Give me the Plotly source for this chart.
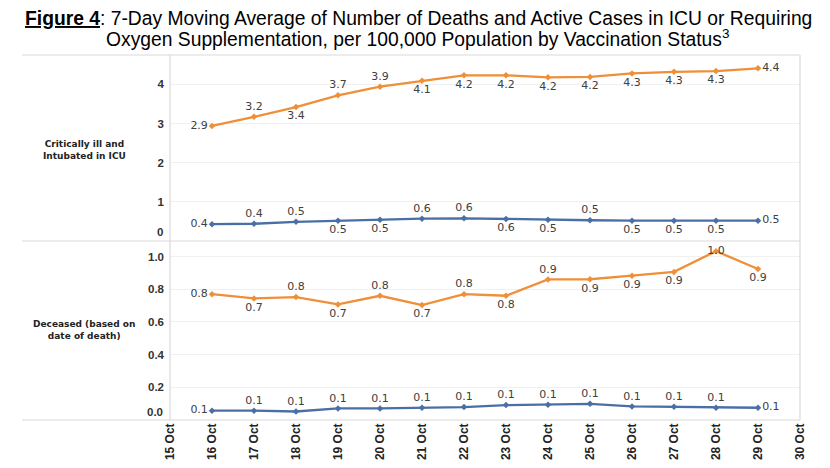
import plotly.graph_objects as go

dates = ["2021-10-%02d" % d for d in range(16, 30)]

icu_unvax = [2.94, 3.17, 3.42, 3.72, 3.94, 4.09, 4.23, 4.23, 4.18, 4.19, 4.28, 4.32, 4.34, 4.41]
icu_vax = [0.43, 0.44, 0.49, 0.52, 0.54, 0.57, 0.58, 0.56, 0.54, 0.53, 0.52, 0.52, 0.52, 0.52]
dec_unvax = [0.77, 0.744, 0.752, 0.707, 0.76, 0.703, 0.77, 0.76, 0.86, 0.861, 0.883, 0.906, 1.033, 0.924]
dec_vax = [0.057, 0.057, 0.052, 0.071, 0.071, 0.075, 0.079, 0.091, 0.093, 0.099, 0.083, 0.081, 0.075, 0.075]

L, T, B, R = "middle left", "top center", "bottom center", "middle right"
pos_icu_unvax = [L, T, B, T, T, B, B, B, B, B, B, B, B, R]
pos_icu_vax = [L, T, T, B, B, T, T, B, B, T, B, B, B, R]
pos_dec_unvax = [L, B, T, B, T, B, T, B, T, B, B, B, "middle center", B]
pos_dec_vax = [L] + [T] * 12 + [R]

ORANGE = "#EF8F37"
BLUE = "#4A6FA6"
LINEC = "#D9D9D9"

fig = go.Figure()

def add(y, pos, color, ax):
    fig.add_trace(go.Scatter(
        x=dates, y=y, mode="lines+markers+text",
        line=dict(color=color, width=2.3),
        marker=dict(color=color, size=5, symbol="diamond"),
        text=[f"{v:.1f}" for v in y], textposition=pos,
        textfont=dict(family="DejaVu Sans", size=11, color="#404040"),
        cliponaxis=False, showlegend=False,
        xaxis="x" if ax == 1 else "x2", yaxis="y" if ax == 1 else "y2",
    ))

add(icu_unvax, pos_icu_unvax, ORANGE, 1)
add(icu_vax, pos_icu_vax, BLUE, 1)
add(dec_unvax, pos_dec_unvax, ORANGE, 2)
add(dec_vax, pos_dec_vax, BLUE, 2)

# screenshot coords -> paper coords
def sx(X):
    return (X - 170) / 630

def sy(Y):
    return (420 - Y) / 365

split = sy(241)

TICKFONT = dict(family="Liberation Sans", size=11.5, color="#333333", weight="bold")
XTICKFONT = dict(family="Liberation Sans", size=12, color="#222222", weight="bold")
xcommon = dict(type="date", range=["2021-10-15", "2021-10-30"], showgrid=False,
               zeroline=False, showline=False, automargin=False)
ycommon = dict(showgrid=True, gridcolor="#F0F0F0", zeroline=False, showline=False,
               tickfont=TICKFONT, ticklabelstandoff=5, automargin=False)

fig.update_layout(
    width=830, height=468,
    margin=dict(l=162, r=38, t=47, b=56),
    paper_bgcolor="white", plot_bgcolor="white",
    xaxis=dict(**xcommon, anchor="y", showticklabels=False, matches="x2"),
    xaxis2=dict(**xcommon, anchor="y2", dtick=86400000, tick0="2021-10-15",
                tickformat="%d %b", tickangle=-90, tickfont=XTICKFONT),
    yaxis=dict(**ycommon, domain=[split, 1], range=[0, 4.75], tickvals=[1, 2, 3, 4]),
    yaxis2=dict(**ycommon, domain=[0, split], range=[0, 1.095],
                tickvals=[0.2, 0.4, 0.6, 0.8, 1.0], tickformat=".1f"),
)

x0 = sx(22)
for yy in [0, split, 1]:
    fig.add_shape(type="line", xref="paper", yref="paper", x0=x0, x1=1, y0=yy, y1=yy,
                  line=dict(color=LINEC, width=1.2))
for xx in [0, 1]:
    fig.add_shape(type="line", xref="paper", yref="paper", x0=xx, x1=xx, y0=0, y1=1,
                  line=dict(color=LINEC, width=1.2))

# zero tick labels, lifted above the frame line as in the original
for txt, Y in [("0", 232), ("0.0", 411.5)]:
    fig.add_annotation(xref="paper", yref="paper", x=0, y=sy(Y), xanchor="right",
                       yanchor="middle", xshift=-5, text=f"<b>{txt}</b>", showarrow=False,
                       font=TICKFONT)

ROWFONT = dict(family="DejaVu Sans", size=9, color="#222222")
fig.add_annotation(xref="paper", yref="paper", x=sx(84), y=sy(150), xanchor="center",
                   yanchor="middle", text="<b>Critically ill and<br>Intubated in ICU</b>",
                   showarrow=False, font=ROWFONT, align="center")
fig.add_annotation(xref="paper", yref="paper", x=sx(84), y=sy(330), xanchor="center",
                   yanchor="middle", text="<b>Deceased (based on<br>date of death)</b>",
                   showarrow=False, font=ROWFONT, align="center")

TFONT = dict(family="Liberation Sans, Arial", size=19.3, color="#000000")
fig.add_annotation(xref="paper", yref="paper", x=sx(418), y=sy(18), xanchor="center",
                   yanchor="middle", showarrow=False, font=TFONT,
                   text="<b><u>Figure 4</u></b>: 7-Day Moving Average of Number of Deaths and Active Cases in ICU or Requiring")
fig.add_annotation(xref="paper", yref="paper", x=sx(418), y=sy(38.5), xanchor="center",
                   yanchor="middle", showarrow=False, font=TFONT,
                   text="Oxygen Supplementation, per 100,000 Population by Vaccination Status<sup>3</sup>")

fig.write_html("out.html")
